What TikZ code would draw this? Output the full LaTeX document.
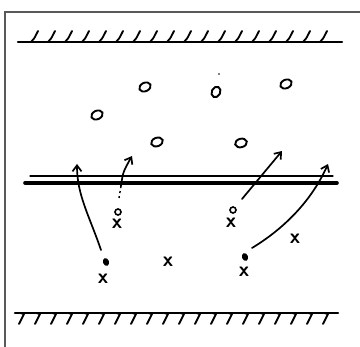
\documentclass[tikz,border=0pt]{standalone}
\usetikzlibrary{arrows.meta,shapes.geometric}
\begin{document}
\begin{tikzpicture}[x=1pt,y=-1pt,
  ink/.style={line width=1.8pt,black,line cap=round},
  grain/.style={draw,ellipse,line width=1.9pt,minimum width=12pt,minimum height=8.5pt,inner sep=0pt,rotate=25},
  fdot/.style={fill,ellipse,minimum width=6pt,minimum height=8pt,inner sep=0pt},
  odot/.style={draw,circle,line width=1.6pt,minimum size=6pt,inner sep=0pt},
  cross/.style={inner sep=0pt,font=\sffamily\bfseries\huge},
  flow/.style={line width=1.7pt,line cap=round,-{Straight Barb[length=6pt,width=9pt,line width=1.7pt]}}]
\useasboundingbox (0,0) rectangle (360,347);
% frame
\draw[gray!70!black,line width=1.2pt] (5,347) -- (5,12) -- (360,12);
% top wall
\coordinate (tw1) at (18,42); \coordinate (tw2) at (342,42);
\draw[ink,line width=2.2pt] (tw1) -- (tw2);
\foreach \x in {34,51,68,85,102,119,136,153,170,187,204,221,238,255,272,289,306,323}
  \draw[ink] (\x-3,42) .. controls (\x,39) .. (\x+4,31);
% bottom wall
\coordinate (bw1) at (15,313); \coordinate (bw2) at (338,313);
\draw[ink,line width=2.2pt] (bw1) -- (bw2);
\foreach \x in {24,40,56,72,88,104,120,136,152,168,184,200,216,232,248,264,280,296,312,328}
  \draw[ink] (\x-4,313) -- (\x,314) -- (\x-5,324);
% middle double line
\coordinate (m1) at (30,176); \coordinate (m2) at (333,176);
\coordinate (n1) at (25,183); \coordinate (n2) at (337,183);
\draw[ink,line width=1.3pt] (m1) -- (m2);
\draw[ink,line width=3.6pt] (n1) -- (n2);
% grains above
\node[grain] (g1) at (97,115) {};
\node[grain] (g2) at (145,87) {};
\node[grain,rotate=40,minimum width=11pt] (g3) at (216,92) {};
\node[fill,circle,inner sep=0.6pt] (g3d) at (219,74) {};
\node[grain] (g4) at (286,84) {};
\node[grain,rotate=-5] (g5) at (157,142) {};
\node[grain,rotate=-10] (g6) at (241,143) {};
% particles below
\node[fdot,rotate=20] (d1) at (106,262) {};
\node[cross] (x1) at (103,279) {x};
\node[odot] (o2) at (118,212) {};
\node[cross] (x2) at (117,224) {x};
\node[cross] (x3) at (168,262) {x};
\node[odot] (o4) at (233,210) {};
\node[cross] (x4) at (231,223) {x};
\node[fdot,rotate=20] (d5) at (245,257) {};
\node[cross] (x5) at (244,272) {x};
\node[cross] (x6) at (295,239) {x};
% arrows
\coordinate (a1s) at (101,250); \coordinate (a1e) at (77,164);
\draw[flow] (a1s) .. controls (89,215) and (77,195) .. (a1e);
\coordinate (a2s) at (119,198); \coordinate (a2e) at (132,156);
\draw[line width=1.4pt,dash pattern=on 2pt off 3pt] (a2s) -- (121,186);
\draw[flow] (121,186) .. controls (123,172) .. (a2e);
\coordinate (a3s) at (242,199); \coordinate (a3e) at (282,151);
\draw[flow] (a3s) -- (a3e);
\coordinate (a4s) at (252,248); \coordinate (a4e) at (328,164);
\draw[flow] (a4s) .. controls (285,228) and (312,200) .. (a4e);
\end{tikzpicture}
\end{document}
